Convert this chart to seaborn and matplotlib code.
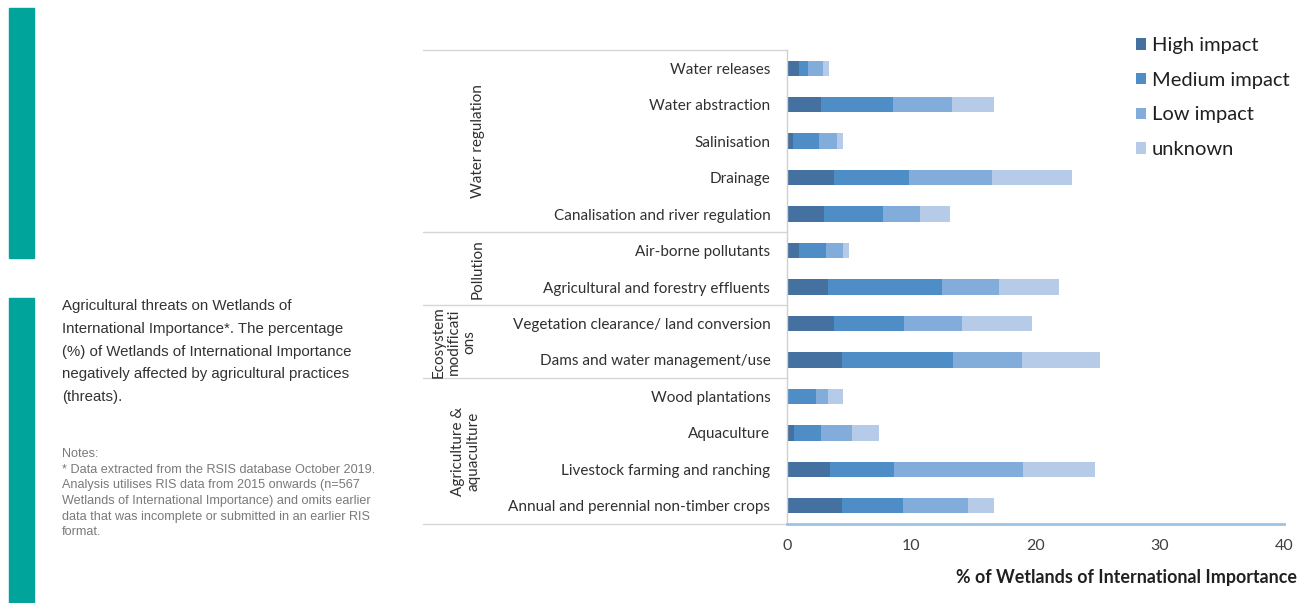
import matplotlib
matplotlib.use("Agg")
import matplotlib.pyplot as plt
import seaborn as sns
import numpy as np
import pandas as pd
from matplotlib.patches import Patch, Rectangle
from matplotlib.transforms import blended_transform_factory

categories = [
    "Water releases",
    "Water abstraction",
    "Salinisation",
    "Drainage",
    "Canalisation and river regulation",
    "Air-borne pollutants",
    "Agricultural and forestry effluents",
    "Vegetation clearance/ land conversion",
    "Dams and water management/use",
    "Wood plantations",
    "Aquaculture",
    "Livestock farming and ranching",
    "Annual and perennial non-timber crops",
]
high_impact = [1.0, 2.7, 0.5, 3.8, 3.0, 1.0, 3.3, 3.8, 4.4, 0.0, 0.6, 3.5, 4.4]
medium_impact = [0.7, 5.8, 2.1, 6.0, 4.7, 2.1, 9.2, 5.6, 9.0, 2.3, 2.1, 5.1, 4.9]
low_impact = [1.2, 4.8, 1.4, 6.7, 3.0, 1.4, 4.6, 4.7, 5.5, 1.0, 2.5, 10.4, 5.3]
unknown = [0.5, 3.4, 0.5, 6.4, 2.4, 0.5, 4.8, 5.6, 6.3, 1.2, 2.2, 5.8, 2.1]
series_names = ["High impact", "Medium impact", "Low impact", "unknown"]
groups = ["Water regulation", "Pollution", "Ecosystem\nmodificati\nons", "Agriculture &\naquaculture"]
group_sizes = [5, 2, 2, 4]
x_ticks = [0, 10, 20, 30, 40]

colors = ["#44719f", "#4f8dc6", "#82addb", "#b5cbe8"]

sns.set_theme(style="white")
plt.rcParams["font.family"] = ["Lato", "DejaVu Sans"]

df = pd.DataFrame({"cat": categories, "High impact": high_impact,
                   "Medium impact": medium_impact, "Low impact": low_impact,
                   "unknown": unknown})
cum = df[series_names].cumsum(axis=1)

fig = plt.figure(figsize=(13.07, 6.03), dpi=100)
ax = fig.add_axes([787/1307, 1-524/603, 497/1307, 474/603])

for i in range(len(series_names) - 1, -1, -1):
    sns.barplot(x=cum[series_names[i]], y=df["cat"], order=categories,
                color=colors[i], width=0.42, orient="h", ax=ax,
                saturation=1, edgecolor="none", linewidth=0)

ax.set_xlim(0, 40)
ax.set_ylim(len(categories) - 0.5, -0.5)
ax.set_xticks(x_ticks)
ax.set_xticklabels([str(t) for t in x_ticks], fontsize=11.5, color="#404040")
ax.tick_params(axis="x", direction="in", length=3, width=1, color="#9dc3e6", pad=11)
ax.tick_params(axis="y", length=0, pad=12, labelsize=11, labelcolor="#303030")
ax.set_xlabel("")
ax.set_ylabel("")
for s in ["top", "right"]:
    ax.spines[s].set_visible(False)
ax.spines["left"].set_color("#d0d0d0")
ax.spines["left"].set_linewidth(1)
ax.spines["bottom"].set_color("#9dc3e6")
ax.spines["bottom"].set_linewidth(2)

trans = blended_transform_factory(ax.transAxes, ax.transData)
x0 = (423 - 787) / 497
bounds = [-0.5]
for g in group_sizes:
    bounds.append(bounds[-1] + g)
for b in bounds:
    ax.plot([x0, 0], [b, b], color="#d6d6d6", lw=1, transform=trans, clip_on=False)

group_x = [(478 - 787) / 497, (478 - 787) / 497, (454 - 787) / 497, (466 - 787) / 497]
for gi, name in enumerate(groups):
    yc = (bounds[gi] + bounds[gi + 1]) / 2
    ax.text(group_x[gi], yc, name, rotation=90, ha="center", va="center",
            fontsize=11, color="#303030", transform=trans, linespacing=1.1,
            multialignment="center")

handles = [Patch(facecolor=c, edgecolor="none") for c in colors]
fig.legend(handles, series_names, loc="upper left", bbox_to_anchor=(1136/1307, 1-37/603),
           frameon=False, fontsize=14.5, handlelength=0.5, handleheight=0.5,
           handletextpad=0.3, labelspacing=0.88, labelcolor="#202020",
           borderpad=0, borderaxespad=0)

fig.text(1297/1307, 1-577/603, "% of Wetlands of International Importance",
         ha="right", va="center", fontsize=12.9, fontweight="bold", color="#202020")

fig.patches.append(Rectangle((9/1307, 1-258/603), 25/1307, 250/603,
                             transform=fig.transFigure, color="#00a49a", zorder=0))
fig.patches.append(Rectangle((9/1307, 0), 25/1307, 305/603,
                             transform=fig.transFigure, color="#00a49a", zorder=0))

caption = ("Agricultural threats on Wetlands of\n"
           "International Importance*. The percentage\n"
           "(%) of Wetlands of International Importance\n"
           "negatively affected by agricultural practices\n"
           "(threats).")
fig.text(62/1307, 1-299/603, caption, ha="left", va="top", fontsize=10.8,
         color="#333333", family=["Liberation Sans", "DejaVu Sans"], linespacing=1.80)

notes = ("Notes:\n"
         "* Data extracted from the RSIS database October 2019.\n"
         "Analysis utilises RIS data from 2015 onwards (n=567\n"
         "Wetlands of International Importance) and omits earlier\n"
         "data that was incomplete or submitted in an earlier RIS\n"
         "format.")
fig.text(62/1307, 1-448/603, notes, ha="left", va="top", fontsize=9.1,
         color="#7a7a7a", family=["Liberation Sans", "DejaVu Sans"], linespacing=1.41)

fig.savefig("out.png", dpi=100)
